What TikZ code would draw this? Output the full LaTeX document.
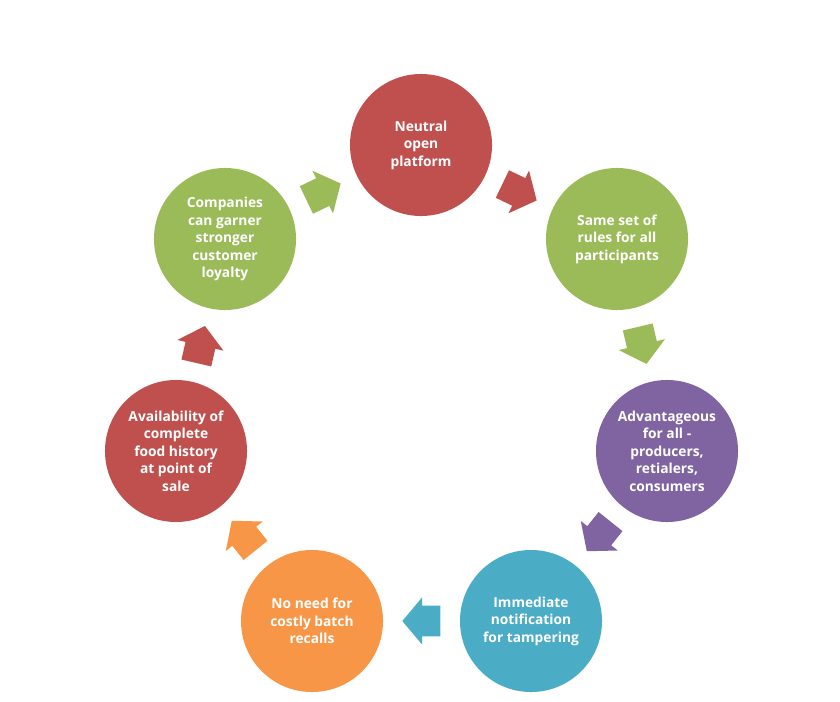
\documentclass[tikz,border=0pt]{standalone}
\usepackage{fontspec}
\setmainfont{Open Sans}
\usepackage{xcolor}
\usetikzlibrary{shapes.arrows}

\definecolor{stepred}{HTML}{C0504D}
\definecolor{stepgreen}{HTML}{9BBB59}
\definecolor{steppurple}{HTML}{8064A2}
\definecolor{stepblue}{HTML}{4BACC6}
\definecolor{steporange}{HTML}{F79646}

\tikzset{
    stage/.style={circle, fill=#1, minimum size=3.55cm, inner sep=0pt, align=center,
        text=white, font=\fontsize{9.8}{12.5}\selectfont\bfseries},
    flow/.style={single arrow, fill=#1, minimum height=0.95cm,
        single arrow head extend=0.21cm, single arrow tip angle=100,
        inner xsep=0pt, inner ysep=0.375cm, sloped, allow upside down,
        pos=0.25, anchor=tail}
}

\begin{document}
\begin{tikzpicture}[x=0.025cm, y=-0.025cm]
    \useasboundingbox (0,0) rectangle (840,702);

    % Cycle stages
    \node[stage=stepred] (platform) at (421,145) {Neutral\\open\\platform};
    \node[stage=stepgreen] (rules) at (617,239) {Same set of\\rules for all\\participants};
    \node[stage=steppurple] (advantage) at (667,451) {Advantageous\\for all -\\producers,\\retialers,\\consumers};
    \node[stage=stepblue] (notify) at (531,621) {Immediate\\notification\\for tampering};
    \node[stage=steporange] (recalls) at (312,621) {No need for\\costly batch\\recalls};
    \node[stage=stepred] (history) at (176,451) {Availability of\\complete\\food history\\at point of\\sale};
    \node[stage=stepgreen] (loyalty) at (225,239) {Companies\\can garner\\stronger\\customer\\loyalty};

    % Arrows between stages
    \path (platform) -- (rules) node[flow=stepred] (a1) {};
    \path (rules) -- (advantage) node[flow=stepgreen] (a2) {};
    \path (advantage) -- (notify) node[flow=steppurple] (a3) {};
    \path (notify) -- (recalls) node[flow=stepblue] (a4) {};
    \path (recalls) -- (history) node[flow=steporange] (a5) {};
    \path (history) -- (loyalty) node[flow=stepred] (a6) {};
    \path (loyalty) -- (platform) node[flow=stepgreen] (a7) {};
\end{tikzpicture}
\end{document}
